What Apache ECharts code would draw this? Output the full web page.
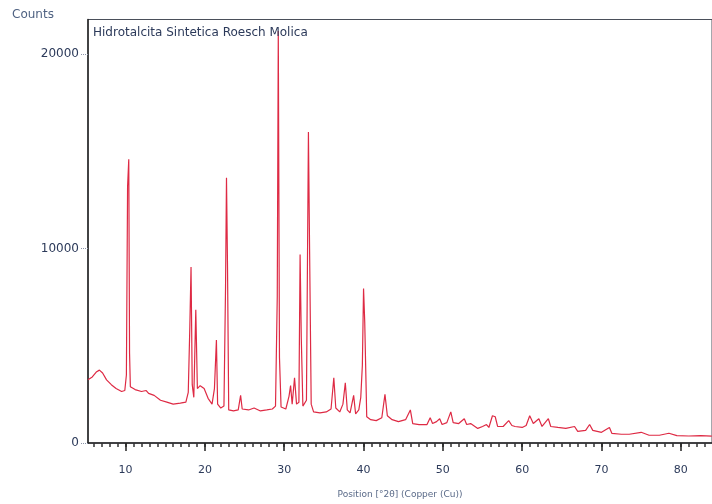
<!DOCTYPE html>
<html>
<head>
<meta charset="utf-8">
<script src="https://cdn.jsdelivr.net/npm/echarts@6/dist/echarts.min.js"></script>
<style>html,body{margin:0;padding:0;background:#fff;}#c{width:712px;height:504px;}</style>
</head>
<body>
<div id="c"></div>
<script>
// Data
const positions = [5.26,5.8,6.3,6.7,7.1,7.6,8.2,8.8,9.5,9.9,10.1,10.25,10.4,10.5,10.6,11.2,12.0,12.6,12.9,13.6,14.4,15.2,16.0,16.9,17.6,17.9,18.1,18.25,18.4,18.6,18.85,19.05,19.4,19.9,20.4,20.9,21.2,21.45,21.6,22.0,22.4,22.6,22.72,22.85,23.0,23.6,24.2,24.5,24.7,25.5,26.2,27.0,27.8,28.5,28.9,29.12,29.25,29.4,29.6,30.2,30.6,30.8,31.0,31.3,31.55,31.85,32.0,32.15,32.35,32.8,33.05,33.2,33.4,33.7,34.5,35.3,35.9,36.25,36.5,37.0,37.4,37.7,37.95,38.3,38.75,39.0,39.4,39.65,39.85,40.0,40.15,40.4,40.9,41.6,42.3,42.7,43.0,43.6,44.4,45.3,45.9,46.2,47.0,48.0,48.4,48.7,49.2,49.6,49.9,50.5,51.0,51.3,52.0,52.7,53.0,53.5,54.4,55.0,55.5,55.8,56.25,56.6,56.9,57.6,58.3,58.7,59.1,60.0,60.5,60.95,61.4,62.1,62.5,63.3,63.6,64.5,65.5,66.6,67.0,68.0,68.5,68.9,70.0,71.0,71.3,72.5,73.5,75.0,76.0,77.3,78.5,79.5,81.0,82.5,83.9];
const counts = [3250,3400,3650,3750,3600,3250,3000,2800,2650,2700,3500,13200,14600,4600,2900,2750,2650,2700,2550,2450,2200,2100,2000,2050,2100,2600,6000,9050,3000,2350,6850,2800,2950,2800,2300,2000,2800,5300,2000,1800,1900,8000,13650,9000,1700,1650,1700,2450,1750,1700,1800,1650,1700,1750,1900,7500,21200,4400,1850,1750,2400,2950,2000,3350,2000,2100,9700,5400,1900,2200,16000,9800,2000,1600,1550,1600,1750,3350,1800,1600,2000,3100,1700,1550,2450,1500,1700,2350,4000,7950,6200,1350,1200,1150,1300,2500,1400,1200,1100,1200,1700,1000,950,950,1300,1000,1100,1250,950,1050,1600,1050,1000,1250,950,1000,750,850,950,800,1400,1350,850,850,1150,900,850,800,900,1400,1000,1250,850,1250,850,800,750,850,600,650,950,650,550,800,500,450,450,550,400,400,500,380,360,380,350];
const xTickLabels = [10,20,30,40,50,60,70,80];
const xMinorTicks = [6,7,8,9,10,11,12,13,14,15,16,17,18,19,20,21,22,23,24,25,26,27,28,29,30,31,32,33,34,35,36,37,38,39,40,41,42,43,44,45,46,47,48,49,50,51,52,53,54,55,56,57,58,59,60,61,62,63,64,65,66,67,68,69,70,71,72,73,74,75,76,77,78,79,80,81,82,83];
const yTickLabels = [0,10000,20000];
const sampleName = 'Hidrotalcita Sintetica Roesch Molica';
const yAxisTitle = 'Counts';
const xAxisTitle = 'Position [°2θ] (Copper (Cu))';

const series = positions.map((p, i) => [p, counts[i]]);
const XMIN = 5.26, XMAX = 83.93, YMAX = 21790;
const font = 'DejaVu Sans';

const chart = echarts.init(document.getElementById('c'), null, {renderer: 'canvas'});
chart.setOption({
  animation: false,
  backgroundColor: '#fff',
  title: [
    {text: yAxisTitle, left: 7, top: 4, textStyle: {fontFamily: font, fontSize: 12, fontWeight: 'normal', color: '#4f6282'}},
    {text: sampleName, left: 88, top: 22, textStyle: {fontFamily: font, fontSize: 12, fontWeight: 'normal', color: '#2c3a5a'}}
  ],
  grid: {left: 88, right: -2, top: 19.5, bottom: 58.5, show: true, borderColor: '#4a4f5a', borderWidth: 1, backgroundColor: 'transparent'},
  xAxis: [
    {
      type: 'value', min: XMIN, max: XMAX, position: 'bottom',
      name: xAxisTitle, nameLocation: 'middle', nameGap: 47,
      nameTextStyle: {fontFamily: font, fontSize: 9, color: '#5a6a88'},
      axisLine: {show: true, lineStyle: {color: '#222', width: 1.5}},
      axisTick: {show: true, customValues: xMinorTicks, length: 4, lineStyle: {color: '#333', width: 1.5}},
      axisLabel: {customValues: xTickLabels, fontFamily: font, fontSize: 11, color: '#2c3a5a', margin: 22},
      splitLine: {show: false}
    },
    {
      type: 'value', min: XMIN, max: XMAX, position: 'bottom',
      axisLine: {show: false},
      axisTick: {show: true, customValues: xTickLabels, length: 8, lineStyle: {color: '#222', width: 1.5}},
      axisLabel: {show: false},
      splitLine: {show: false}
    }
  ],
  yAxis: {
    type: 'value', min: 0, max: YMAX,
    axisLine: {show: true, lineStyle: {color: '#222', width: 1.5}},
    axisTick: {show: true, customValues: yTickLabels, length: 7, lineStyle: {color: '#8a93a8', type: 'dotted', width: 1}},
    axisLabel: {customValues: yTickLabels, fontFamily: font, fontSize: 12, color: '#2c3a5a', margin: 9, formatter: v => String(v)},
    splitLine: {show: false}
  },
  series: [{
    type: 'line', xAxisIndex: 0, data: series, showSymbol: false, symbol: 'none',
    lineStyle: {color: '#de2a44', width: 1.2}, clip: true
  }]
});
</script>
</body>
</html>
